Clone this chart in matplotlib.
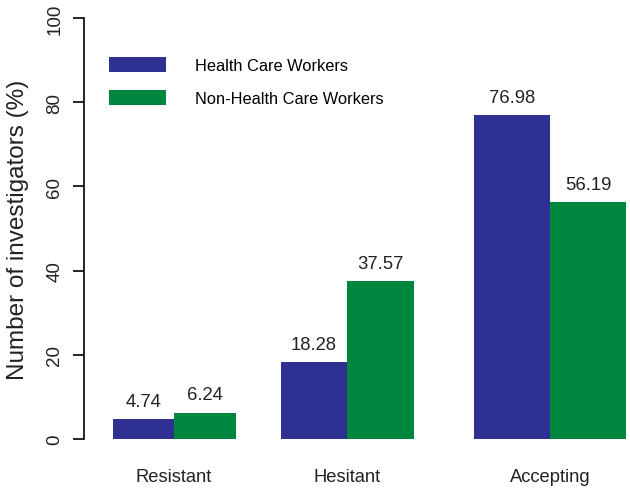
import matplotlib.pyplot as plt
import numpy as np

plt.rcParams['font.family'] = ['Liberation Sans', 'DejaVu Sans']

categories = ["Resistant", "Hesitant", "Accepting"]
hcw = [4.74, 18.28, 76.98]
non_hcw = [6.24, 37.57, 56.19]
series_names = ["Health Care Workers", "Non-Health Care Workers"]

blue = "#2e3192"
green = "#00873f"

W, H = 630, 489
fig = plt.figure(figsize=(W / 100, H / 100), dpi=100)
# axes placed in pixel terms: left spine at x=84, zero at y=440, 100 at y=19
ax = fig.add_axes([84 / W, (H - 440) / H, (W - 84) / W, (440 - 19) / H])

# group centres / bar widths measured in pixels from the left spine
centres = np.array([90, 263, 466])
widths = np.array([61.5, 66.5, 76])

b1 = ax.bar(centres - widths, hcw, width=widths, align='edge', color=blue, label=series_names[0])
b2 = ax.bar(centres, non_hcw, width=widths, align='edge', color=green, label=series_names[1])

for bars, vals in [(b1, hcw), (b2, non_hcw)]:
    for r, v in zip(bars, vals):
        ax.text(r.get_x() + r.get_width() / 2, v + 2.2, f"{v:.2f}",
                ha='center', va='bottom', fontsize=13.3, color='#222222')

ax.set_xlim(0, W - 84)
ax.set_ylim(0, 100)
ax.set_yticks([0, 20, 40, 60, 80, 100])
ax.tick_params(axis='y', length=8, width=1.2, pad=7, labelsize=13.5,
               labelcolor='#222222', labelrotation=90)
for lab in ax.get_yticklabels():
    lab.set_va('center')
ax.set_xticks(centres)
ax.set_xticklabels(categories)
ax.tick_params(axis='x', length=0, pad=21, labelsize=13.2, labelcolor='#222222')

for s in ['top', 'right', 'bottom']:
    ax.spines[s].set_visible(False)
ax.spines['left'].set_linewidth(1.2)

ax.set_ylabel("Number of investigators (%)", fontsize=17.5, color='#222222')
ax.yaxis.set_label_coords(-(84 - 29) / (W - 84), 0.5)

ax.legend(loc='upper left', bbox_to_anchor=(109 / W, 1 - 58 / H), bbox_transform=fig.transFigure,
          frameon=False, fontsize=11.8, handlelength=3.5, handleheight=1.0,
          handletextpad=1.75, labelspacing=1.05, borderpad=0, borderaxespad=0)

fig.savefig("out.png", dpi=100)
